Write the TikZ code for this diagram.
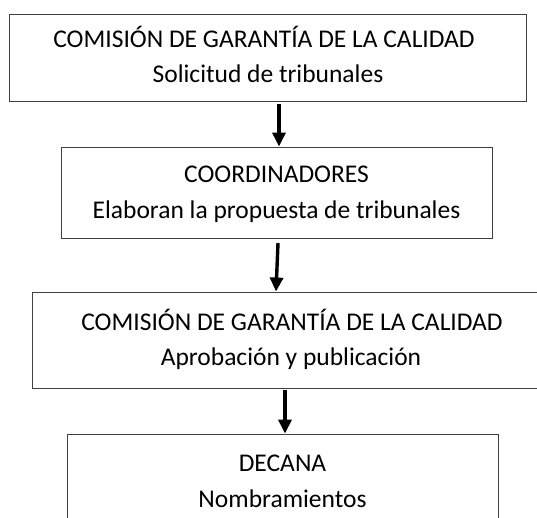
\documentclass[tikz,border=0pt]{standalone}
\usepackage{fontspec}
\setmainfont{Carlito}
\usetikzlibrary{arrows.meta}
\begin{document}
\begin{tikzpicture}[x=1bp,y=-1bp,
  boxst/.style={draw=black!75,line width=0.9bp,fill=none,inner sep=0pt},
  txt/.style={inner sep=0pt,anchor=base,font=\fontsize{25.5bp}{30bp}\selectfont},
  arr/.style={line width=3.4bp,-{Triangle[width=13bp,length=14bp]}}]
\useasboundingbox (0,0) rectangle (537,518);
% boxes
\node[boxst,minimum width=517bp,minimum height=87bp] (b1) at (267.5,57.5) {};
\node[boxst,minimum width=431bp,minimum height=91bp] (b2) at (276.5,192.5) {};
\node[boxst,minimum width=530bp,minimum height=96bp] (b3) at (297,340) {};
\node[boxst,minimum width=431bp,minimum height=96bp] (b4) at (282.5,482) {};
% texts
\node[txt] (t1a) at (264,48) {COMISIÓN DE GARANTÍA DE LA CALIDAD};
\node[txt] (t1b) at (268,83) {Solicitud de tribunales};
\node[txt] (t2a) at (276.5,183) {COORDINADORES};
\node[txt] (t2b) at (276.5,218) {Elaboran la propuesta de tribunales};
\node[txt] (t3a) at (292,330) {COMISIÓN DE GARANTÍA DE LA CALIDAD};
\node[txt] (t3b) at (291,365) {Aprobación y publicación};
\node[txt] (t4a) at (282.5,471) {DECANA};
\node[txt] (t4b) at (282.5,507) {Nombramientos};
% connectors
\coordinate (s1) at (279,104);
\coordinate (s2) at (278,243);
\coordinate (e2) at (276,292);
\coordinate (s3) at (285,390);
\draw[arr] (s1) -- (s1 |- b2.north);
\draw[arr] (s2) -- (e2 |- b3.north);
\draw[arr] (s3) -- (s3 |- b4.north);
\end{tikzpicture}
\end{document}
